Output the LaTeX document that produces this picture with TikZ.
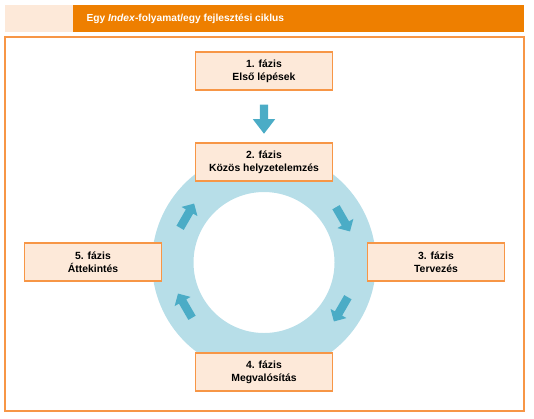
\documentclass[tikz,border=0pt]{standalone}
\usepackage{fontspec}
\setmainfont{Liberation Sans}
\usetikzlibrary{calc,shapes.arrows}
\definecolor{titleorange}{RGB}{238,127,0}
\definecolor{peach}{RGB}{253,233,217}
\definecolor{boxline}{RGB}{247,150,70}
\definecolor{ringblue}{RGB}{183,222,232}
\definecolor{arrowblue}{RGB}{75,172,198}

\begin{document}
\begin{tikzpicture}[x=1pt,y=-1pt,
  phase/.style={draw=boxline,line width=1.2pt,fill=peach,minimum width=137pt,minimum height=38pt,
    inner sep=0pt,align=center,font=\bfseries\fontsize{10.4}{13}\selectfont},
  turn/.style={single arrow,fill=arrowblue,draw=none,inner sep=4pt,single arrow head extend=5pt,
    single arrow tip angle=90,minimum height=28pt}]
\useasboundingbox (0,0) rectangle (534,418);
% title bar
\fill[peach] (5,5) rectangle (73,32);
\fill[titleorange] (73,5) rectangle (524,32);
\node[anchor=west,text=white,font=\bfseries\fontsize{10.2}{12}\selectfont] (title) at (83,18.5)
  {Egy \textit{Index}-folyamat/egy fejlesztési ciklus};
\draw[boxline,line width=1.5pt] (5,37) rectangle (524,411);
% cycle
\coordinate (c) at (264,262.5);
\fill[ringblue,even odd rule] (c) circle (112pt) circle (70.5pt);
\node[phase] (p1) at (264,71) {1. fázis\\Első lépések};
\node[phase] (p2) at (264,162) {2. fázis\\Közös helyzetelemzés};
\node[phase] (p3) at (436,262) {3. fázis\\Tervezés};
\node[phase] (p4) at (264,372) {4. fázis\\Megvalósítás};
\node[phase] (p5) at (93,262) {5. fázis\\Áttekintés};
\node[turn,rotate=-90,single arrow head extend=7pt,single arrow tip angle=75,minimum height=29pt]
  (down) at ($(p1.south)!.5!(p2.north)$) {};
\foreach \a in {150,30,-30,-150}
  \node[turn,rotate=\a-90] at ([shift={(\a:90pt)}]c) {};
\end{tikzpicture}
\end{document}
